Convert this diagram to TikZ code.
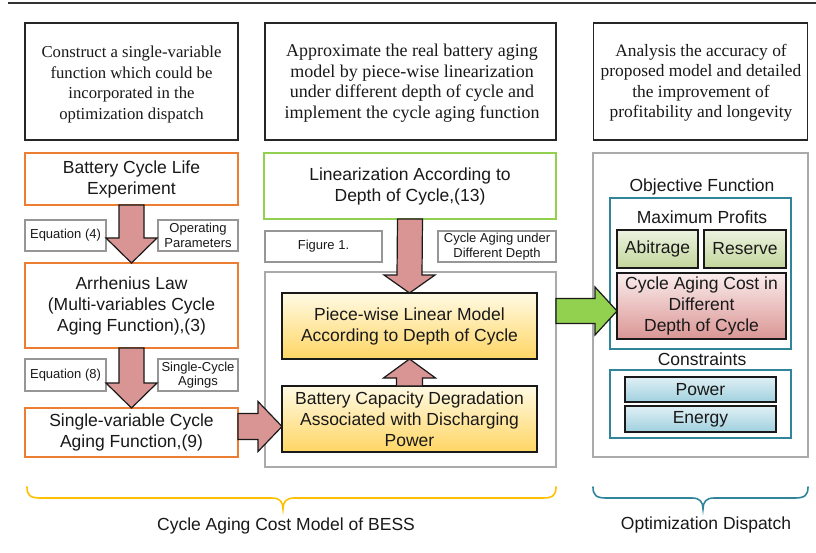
\documentclass[tikz,border=0pt]{standalone}
\usepackage{fontspec}
\setmainfont{Liberation Serif}
\setsansfont{Liberation Sans}
\usetikzlibrary{calc}
\definecolor{orangeB}{RGB}{237,125,49}
\definecolor{greenB}{RGB}{146,208,80}
\definecolor{grayB}{RGB}{170,170,170}
\definecolor{lblB}{RGB}{150,150,150}
\definecolor{arrowF}{RGB}{217,149,148}
\definecolor{greenF}{RGB}{146,208,80}
\definecolor{tealB}{RGB}{49,133,155}
\definecolor{braceY}{RGB}{255,192,0}
\definecolor{txt}{RGB}{25,25,25}
\tikzset{
  base/.style={inner sep=0pt, outer sep=0pt, align=center, text=txt,
    font=\sffamily\fontsize{17.5}{21}\selectfont},
  topbox/.style={draw=black!85, line width=1.3pt, inner sep=0pt, outer sep=0pt},
  toptext/.style={inner sep=0pt, outer sep=0pt, align=center, text=txt},
  obox/.style={base, draw=orangeB, line width=1.5pt},
  gbox/.style={base, draw=greenB, line width=1.5pt},
  lbl/.style={base, draw=lblB, line width=1.2pt, font=\sffamily\fontsize{13}{14.5}\selectfont},
  grayframe/.style={draw=grayB, line width=2pt, inner sep=0pt, outer sep=0pt},
  tealframe/.style={draw=tealB, line width=1.2pt, inner sep=0pt, outer sep=0pt},
  ybox/.style={base, draw=black!90, line width=1.3pt, top color={rgb,255:red,255;green,250;blue,228}, bottom color={rgb,255:red,255;green,214;blue,100}},
  grbox/.style={base, draw=black!90, line width=1.2pt, top color={rgb,255:red,236;green,242;blue,224}, bottom color={rgb,255:red,195;green,214;blue,155}},
  pkbox/.style={base, draw=black!90, line width=1.2pt, top color={rgb,255:red,250;green,236;blue,236}, bottom color={rgb,255:red,217;green,150;blue,148}},
  blbox/.style={base, draw=black!90, line width=1.2pt, top color={rgb,255:red,224;green,240;blue,245}, bottom color={rgb,255:red,160;green,208;blue,222}},
  blockarrow/.style={draw=black!90, line width=1.2pt, fill=arrowF, line join=miter},
  greenarrow/.style={draw=black!90, line width=1.2pt, fill=greenF, line join=miter},
  bracestyle/.style={line width=1.6pt, line cap=round},
}
\begin{document}
\begin{tikzpicture}[x=1pt,y=-1pt]
\useasboundingbox (0,0) rectangle (816,553);
\fill[white] (0,0) rectangle (816,553);
\coordinate (ruleL) at (8,3);
\coordinate (ruleR) at (816,3);
\draw[black!80, line width=1.5pt] (ruleL) -- (ruleR);

% top description boxes
\node[topbox, minimum width=213pt, minimum height=117pt] (t1) at (131.5,81.5) {};
\node[toptext, font=\rmfamily\fontsize{16.7}{20.5}\selectfont] (t1txt) at (131.5,84.5)
  {Construct a single-variable\\function which could be\\incorporated in the\\optimization dispatch};
\node[topbox, minimum width=291pt, minimum height=117pt] (t2) at (410.5,81.5) {};
\node[toptext, font=\rmfamily\fontsize{18}{20.5}\selectfont] (t2txt) at (412,83)
  {Approximate the real battery aging\\model by piece-wise linearization\\under different depth of cycle and\\implement the cycle aging function};
\node[topbox, minimum width=214pt, minimum height=117pt] (t3) at (700.5,81.5) {};
\node[toptext, font=\rmfamily\fontsize{17.4}{20.5}\selectfont] (t3txt) at (701,83)
  {Analysis the accuracy of\\proposed model and detailed\\the improvement of\\profitability and longevity};

% left column
\node[obox, minimum width=213pt, minimum height=52pt] (exp) at (131.5,179) {Battery Cycle Life\\Experiment};
\node[lbl, minimum width=81pt, minimum height=31pt] (eq4) at (65.5,235.5) {Equation (4)};
\node[lbl, minimum width=80pt, minimum height=31pt] (opp) at (198,235.5) {Operating\\Parameters};
\node[obox, minimum width=213pt, minimum height=85pt] (arr) at (131.5,305.5) {Arrhenius Law\\(Multi-variables Cycle\\Aging Function),(3)};
\node[lbl, minimum width=81pt, minimum height=32pt] (eq8) at (65.5,375) {Equation (8)};
\node[lbl, minimum width=80pt, minimum height=32pt] (sca) at (198,375) {Single-Cycle\\Agings};
\node[obox, minimum width=213pt, minimum height=49pt] (sv) at (131.5,432.5) {Single-variable Cycle\\Aging Function,(9)};

% middle column
\node[gbox, minimum width=292pt, minimum height=66pt] (lin) at (410,186) {Linearization According to\\Depth of Cycle,(13)};
\node[lbl, minimum width=117pt, minimum height=31pt] (fig) at (323.5,246.5) {Figure 1.};
\node[lbl, minimum width=118pt, minimum height=31pt] (cad) at (497,246.5) {Cycle Aging under\\Different Depth};
\node[grayframe, minimum width=291pt, minimum height=195pt] (midframe) at (410.5,369.5) {};
\node[ybox, minimum width=255pt, minimum height=66pt] (pw) at (409.5,326) {Piece-wise Linear Model\\According to Depth of Cycle};
\node[ybox, minimum width=255pt, minimum height=66pt] (bcd) at (409.5,419) {Battery Capacity Degradation\\Associated with Discharging\\Power};

% right column
\node[grayframe, minimum width=215pt, minimum height=304pt] (rightframe) at (700.5,305) {};
\node[base] (objf) at (702,187) {Objective Function};
\node[tealframe, minimum width=181pt, minimum height=151pt] (objbox) at (700.5,273.5) {};
\node[base] (maxp) at (702,217) {Maximum Profits};
\node[grbox, minimum width=81pt, minimum height=38pt] (abi) at (657.5,249) {Abitrage};
\node[grbox, minimum width=82pt, minimum height=38pt] (res) at (745,249) {Reserve};
\node[pkbox, minimum width=169pt, minimum height=66pt] (cac) at (701.5,306) {Cycle Aging Cost in\\Different\\Depth of Cycle};
\node[base] (cons) at (702,359) {Constraints};
\node[tealframe, minimum width=181pt, minimum height=68pt] (consbox) at (700.5,404) {};
\node[blbox, minimum width=151pt, minimum height=25pt] (pow) at (700.5,389.5) {Power};
\node[blbox, minimum width=151pt, minimum height=26pt] (ene) at (700.5,419) {Energy};

% block arrows
\draw[blockarrow] ($(exp.south)+(-12.5,0)$) -- ($(exp.south)+(12.5,0)$) -- ($(arr.north)+(12.5,-25)$)
  -- ($(arr.north)+(25.5,-25)$) -- (arr.north) -- ($(arr.north)+(-25.5,-25)$) -- ($(arr.north)+(-12.5,-25)$) -- cycle;
\draw[blockarrow] ($(arr.south)+(-12.5,0)$) -- ($(arr.south)+(12.5,0)$) -- ($(sv.north)+(12.5,-25)$)
  -- ($(sv.north)+(25.5,-25)$) -- (sv.north) -- ($(sv.north)+(-25.5,-25)$) -- ($(sv.north)+(-12.5,-25)$) -- cycle;
\coordinate (rtip) at ($(bcd.west)+(0,7.5)$);
\draw[blockarrow] ($(sv.east|-rtip)+(0,-13)$) -- ($(rtip)+(-24,-13)$) -- ($(rtip)+(-24,-25)$) -- (rtip)
  -- ($(rtip)+(-24,25)$) -- ($(rtip)+(-24,13)$) -- ($(sv.east|-rtip)+(0,13)$) -- cycle;
\draw[blockarrow] ($(lin.south)+(-12.5,0)$) -- ($(lin.south)+(12.5,0)$) -- ($(pw.north)+(12.5,-18)$)
  -- ($(pw.north)+(25.5,-18)$) -- (pw.north) -- ($(pw.north)+(-25.5,-18)$) -- ($(pw.north)+(-12.5,-18)$) -- cycle;
\draw[blockarrow] ($(bcd.north)+(-13,0)$) -- ($(bcd.north)+(13,0)$) -- ($(pw.south)+(13,19)$)
  -- ($(pw.south)+(26,19)$) -- (pw.south) -- ($(pw.south)+(-26,19)$) -- ($(pw.south)+(-13,19)$) -- cycle;
\coordinate (gtip) at ($(cac.west)+(0,5)$);
\draw[greenarrow] ($(midframe.east|-gtip)+(0,-12.5)$) -- ($(gtip)+(-22,-12.5)$) -- ($(gtip)+(-22,-24)$) -- (gtip)
  -- ($(gtip)+(-22,24)$) -- ($(gtip)+(-22,12.5)$) -- ($(midframe.east|-gtip)+(0,12.5)$) -- cycle;

% braces
\draw[braceY, bracestyle] (27,487) .. controls (27,495) and (30,498) .. (40,498) -- (272,498)
  .. controls (280,498) and (283,502) .. (283,509) .. controls (283,502) and (286,498) .. (294,498)
  -- (543,498) .. controls (553,498) and (556,495) .. (556,487);
\draw[tealB, bracestyle] (593,487) .. controls (593,495) and (596,498) .. (606,498) -- (692,498)
  .. controls (700,498) and (703,502) .. (703,509) .. controls (703,502) and (706,498) .. (714,498)
  -- (795,498) .. controls (805,498) and (808,495) .. (808,487);
\node[base] (camb) at (286,526) {Cycle Aging Cost Model of BESS};
\node[base] (optd) at (706,525) {Optimization Dispatch};
\end{tikzpicture}
\end{document}
